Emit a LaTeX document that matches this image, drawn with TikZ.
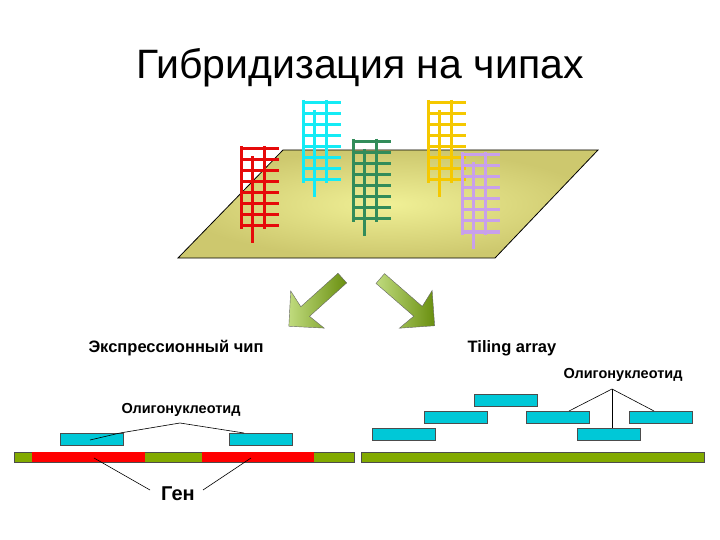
\documentclass[tikz,border=0pt]{standalone}
\usepackage{fontspec}
\setmainfont{Liberation Sans}
\usetikzlibrary{shapes.arrows}
\definecolor{plane}{RGB}{205,200,110}
\definecolor{planein}{RGB}{240,240,150}
\definecolor{olig}{RGB}{0,200,215}
\definecolor{bar}{RGB}{130,170,0}
\definecolor{lred}{RGB}{230,10,10}
\definecolor{lcyan}{RGB}{20,235,245}
\definecolor{lgreen}{RGB}{50,140,90}
\definecolor{lyellow}{RGB}{245,200,0}
\definecolor{lpurple}{RGB}{200,160,235}
\definecolor{arr}{RGB}{140,190,20}
\tikzset{
  oligo/.style={draw=black!70, fill=olig, line width=0.6pt},
  barst/.style={draw=black!70, fill=bar, line width=0.6pt},
  gene/.style={draw=none, fill=red},
  lbl/.style={font=\bfseries\fontsize{14.5}{16}\selectfont},
  ptr/.style={draw=black, line width=0.6pt},
  bigarrow/.style={single arrow, draw=black!60, minimum height=72pt, minimum width=50pt, single arrow head extend=12pt, single arrow head indent=3pt, inner sep=4pt, left color=arr!55!white, right color=arr!75!black},
  rung/.style={line width=3pt},
}
\newcommand{\ladder}[3]{%
  \foreach \k in {0,...,7}{\draw[rung,#3] (#1,#2+3+11*\k) -- (#1+38,#2+3+11*\k);}
  \draw[rung,#3] (#1,#2) -- (#1,#2+83);
  \draw[rung,#3] (#1+11,#2+10) -- (#1+11,#2+97);
  \draw[rung,#3] (#1+23,#2) -- (#1+23,#2+83);}
\begin{document}
\begin{tikzpicture}[x=1pt,y=-1pt]
\useasboundingbox (0,0) rectangle (720,540);
\node[font=\fontsize{41}{46}\selectfont] (title) at (360,68) {Гибридизация на чипах};
% plane
\shade[inner color=planein, outer color=plane, draw=black, line width=0.8pt] (283,150) -- (598,150) -- (495,258) -- (178,258) -- cycle;
\ladder{241}{146}{lred}
\ladder{303}{100}{lcyan}
\ladder{353}{139}{lgreen}
\ladder{428}{100}{lyellow}
\ladder{462}{152}{lpurple}
% arrows
\node[bigarrow, rotate=222] (a1) at (318,300) {};
\node[bigarrow, rotate=-41] (a2) at (405,300) {};
\node[lbl, font=\bfseries\fontsize{16.5}{18}\selectfont] (expr) at (176,348) {Экспрессионный чип};
\node[lbl, font=\bfseries\fontsize{16.5}{18}\selectfont] (tiling) at (512,348) {Tiling array};
% left part
\node[lbl] (ol1) at (181,410) {Олигонуклеотид};
\draw[barst] (14,452) rectangle (354,462);
\fill[gene] (32,452.4) rectangle (145,461.6);
\fill[gene] (202,452.4) rectangle (314,461.6);
\node[oligo, minimum width=63pt, minimum height=12pt, inner sep=0pt] (o1) at (91.5,439) {};
\node[oligo, minimum width=63pt, minimum height=12pt, inner sep=0pt] (o2) at (260.5,439) {};
\coordinate (ap1) at (180,423);
\draw[ptr] (90,440) -- (120,433) -- (ap1) -- (244,433);
\node[lbl, font=\bfseries\fontsize{20}{22}\selectfont] (gen) at (178,494) {Ген};
\draw[ptr] (94,458) -- (150,490);
\draw[ptr] (251,458) -- (203,490);
% right part
\draw[barst] (361,452) rectangle (704,462);
\node[lbl] (ol2) at (623,375) {Олигонуклеотид};
\foreach \x/\y/\n in {506/400/r1, 455.5/417/r2, 558/417/r3, 660.5/417/r4, 403.5/434/r5, 608.5/434/r6}
  \node[oligo, minimum width=63pt, minimum height=12pt, inner sep=0pt] (\n) at (\x,\y) {};
\coordinate (ap2) at (612,389);
\draw[ptr] (ap2) -- (569,411);
\draw[ptr] (ap2) -- (654,411);
\draw[ptr] (ap2) -- (612,428);
\end{tikzpicture}
\end{document}
